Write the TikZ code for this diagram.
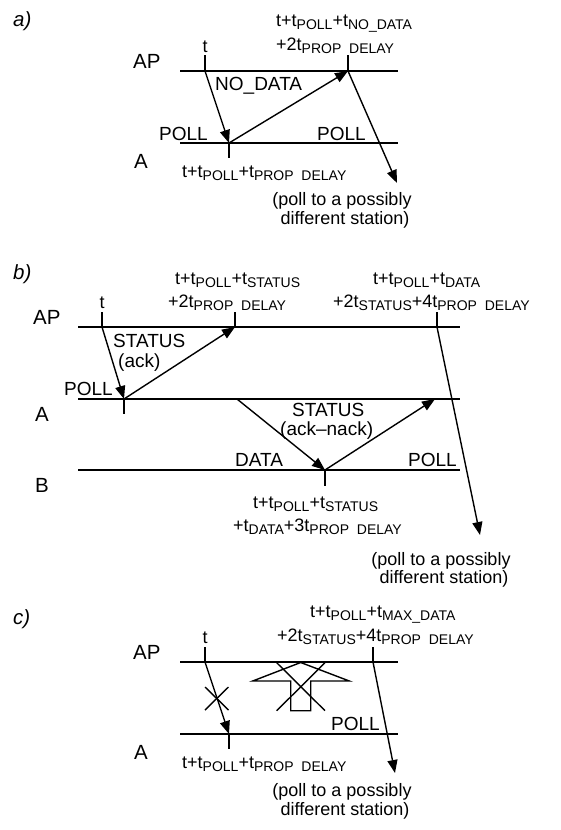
\documentclass[tikz,border=0pt]{standalone}
\usepackage{fontspec}
\setmainfont{Liberation Sans}
\usetikzlibrary{arrows.meta}
\newcommand\lsub[1]{\raisebox{-3pt}{\fontsize{14}{14}\selectfont #1}}
\begin{document}
\begin{tikzpicture}[x=1pt,y=-1pt,
  every node/.style={font=\fontsize{18}{21}\selectfont, inner sep=0pt},
  lbl/.style={anchor=base west},
  rlbl/.style={anchor=base east},
  clbl/.style={anchor=base},
  big/.style={font=\fontsize{20.5}{24}\selectfont},
  mid/.style={font=\fontsize{19}{22}\selectfont},
  panel/.style={anchor=base west, font=\fontsize{20.5}{24}\selectfont\itshape},
  timeline/.style={line width=1.8pt},
  tickmark/.style={line width=1.8pt},
  msg/.style={line width=1.4pt, -{Triangle[length=13pt,width=10pt]}},
  plainline/.style={line width=1.4pt},
]
\useasboundingbox (0,0) rectangle (561,830);

% ---------------- a) ----------------
\node[panel] (pa) at (13,26) {a)};
\coordinate (aAPl) at (180,71); \coordinate (aAPr) at (398,71);
\coordinate (aAl) at (180,143); \coordinate (aAr) at (398,143);
\draw[timeline] (aAPl) -- (aAPr);
\draw[timeline] (aAl) -- (aAr);
\node[lbl,big] (aAPlab) at (133,68) {AP};
\node[lbl,big] (aAlab) at (134,168) {A};
\coordinate (at) at (205,71); \coordinate (att) at (205,55);
\coordinate (ap1) at (229,143); \coordinate (ap1b) at (229,158);
\coordinate (ap2) at (348,71); \coordinate (ap2t) at (348,55);
\coordinate (aend) at (397,183);
\draw[tickmark] (att) -- (at);
\draw[tickmark] (ap1) -- (ap1b);
\draw[tickmark] (ap2t) -- (ap2);
\draw[msg] (at) -- (ap1);
\draw[msg] (ap1) -- (ap2);
\draw[msg] (ap2) -- (aend);
\node[clbl] (atlab) at (205,52) {t};
\node[lbl] (aT1) at (276,26) {t+t\lsub{POLL}+t\lsub{NO\_DATA}};
\node[lbl] (aT2) at (276,50) {+2t\lsub{PROP\ \ DELAY}};
\node[lbl,mid] (aND) at (215,90) {NO\_DATA};
\node[rlbl,mid] (aP1) at (208,140) {POLL};
\node[lbl,mid] (aP2) at (317,140) {POLL};
\node[lbl] (aB1) at (182,177) {t+t\lsub{POLL}+t\lsub{PROP\ \ DELAY}};
\node[clbl] (aX1) at (342,205) {(poll to a possibly};
\node[clbl] (aX2) at (345,224) {different station)};

% ---------------- b) ----------------
\node[panel] (pb) at (13,279) {b)};
\coordinate (bAPl) at (78,327); \coordinate (bAPr) at (460,327);
\coordinate (bAl) at (78,399); \coordinate (bAr) at (460,399);
\coordinate (bBl) at (78,470); \coordinate (bBr) at (460,470);
\draw[timeline] (bAPl) -- (bAPr);
\draw[timeline] (bAl) -- (bAr);
\draw[timeline] (bBl) -- (bBr);
\node[lbl,big] (bAPlab) at (33,324) {AP};
\node[lbl,big] (bAlab) at (35,421) {A};
\node[lbl,big] (bBlab) at (35,492) {B};
\coordinate (bt) at (102,327); \coordinate (btt) at (102,312);
\coordinate (bp1) at (124,399); \coordinate (bp1b) at (124,414);
\coordinate (bp2) at (235,327); \coordinate (bp2t) at (235,312);
\coordinate (bp3) at (237,399);
\coordinate (bp4) at (325,470); \coordinate (bp4b) at (325,486);
\coordinate (bp5) at (435,399);
\coordinate (bp6) at (437,327); \coordinate (bp6t) at (437,312);
\coordinate (bend) at (480,535);
\draw[tickmark] (btt) -- (bt);
\draw[tickmark] (bp1) -- (bp1b);
\draw[tickmark] (bp2t) -- (bp2);
\draw[tickmark] (bp4) -- (bp4b);
\draw[tickmark] (bp6t) -- (bp6);
\draw[msg] (bt) -- (bp1);
\draw[msg] (bp1) -- (bp2);
\draw[msg] (bp3) -- (bp4);
\draw[msg] (bp4) -- (bp5);
\draw[msg] (bp6) -- (bend);
\node[clbl] (btlab) at (102,308) {t};
\node[lbl] (bT1) at (175,284) {t+t\lsub{POLL}+t\lsub{STATUS}};
\node[lbl] (bT2) at (168,307) {+2t\lsub{PROP\ \ DELAY}};
\node[lbl] (bT3) at (373,284) {t+t\lsub{POLL}+t\lsub{DATA}};
\node[lbl] (bT4) at (333,307) {+2t\lsub{STATUS}+4t\lsub{PROP\ \ DELAY}};
\node[lbl,mid] (bS1) at (113,347) {STATUS};
\node[lbl,mid] (bS2) at (118,367) {(ack)};
\node[rlbl,mid] (bP1) at (113,395) {POLL};
\node[lbl,mid] (bS3) at (292,416) {STATUS};
\node[lbl,mid] (bS4) at (280,435) {(ack–nack)};
\node[lbl,mid] (bD) at (235,466) {DATA};
\node[rlbl,mid] (bP2) at (457,466) {POLL};
\node[lbl] (bB1) at (253,508) {t+t\lsub{POLL}+t\lsub{STATUS}};
\node[lbl] (bB2) at (233,531) {+t\lsub{DATA}+3t\lsub{PROP\ \ DELAY}};
\node[clbl] (bX1) at (441,565) {(poll to a possibly};
\node[clbl] (bX2) at (444,583) {different station)};

% ---------------- c) ----------------
\node[panel] (pc) at (13,624) {c)};
\coordinate (cAPl) at (180,662); \coordinate (cAPr) at (398,662);
\coordinate (cAl) at (180,734); \coordinate (cAr) at (398,734);
\draw[timeline] (cAPl) -- (cAPr);
\draw[timeline] (cAl) -- (cAr);
\node[lbl,big] (cAPlab) at (133,659) {AP};
\node[lbl,big] (cAlab) at (134,759) {A};
\coordinate (ct) at (205,662); \coordinate (ctt) at (205,647);
\coordinate (cp1) at (229,734); \coordinate (cp1b) at (229,749);
\coordinate (cp2) at (373,662); \coordinate (cp2t) at (373,647);
\coordinate (cend) at (395,773);
\draw[tickmark] (ctt) -- (ct);
\draw[tickmark] (cp1) -- (cp1b);
\draw[tickmark] (cp2t) -- (cp2);
\draw[msg] (ct) -- (cp1);
\draw[msg] (cp2) -- (cend);
% small cross on the POLL
\coordinate (cx1) at (205,687); \coordinate (cx2) at (228.5,710);
\coordinate (cx3) at (228.5,687); \coordinate (cx4) at (205,710);
\draw[plainline] (cx1) -- (cx2);
\draw[plainline] (cx3) -- (cx4);
% hollow crossed arrow
\draw[plainline] (300.7,662.5) -- (349.3,681) -- (310.7,681) -- (310.7,710.7)
  -- (290.7,710.7) -- (290.7,681) -- (252.7,681) -- cycle;
\coordinate (cy1) at (276.7,662.7); \coordinate (cy2) at (325,710.7);
\coordinate (cy3) at (325,662.7); \coordinate (cy4) at (276.7,710.7);
\draw[plainline] (cy1) -- (cy2);
\draw[plainline] (cy3) -- (cy4);
\node[clbl] (ctlab) at (205,643) {t};
\node[lbl] (cT1) at (310,617) {t+t\lsub{POLL}+t\lsub{MAX\_DATA}};
\node[lbl] (cT2) at (277,641) {+2t\lsub{STATUS}+4t\lsub{PROP\ \ DELAY}};
\node[rlbl,mid] (cP) at (380,730) {POLL};
\node[lbl] (cB1) at (182,768) {t+t\lsub{POLL}+t\lsub{PROP\ \ DELAY}};
\node[clbl] (cX1) at (342,796) {(poll to a possibly};
\node[clbl] (cX2) at (345,815) {different station)};
\end{tikzpicture}
\end{document}
